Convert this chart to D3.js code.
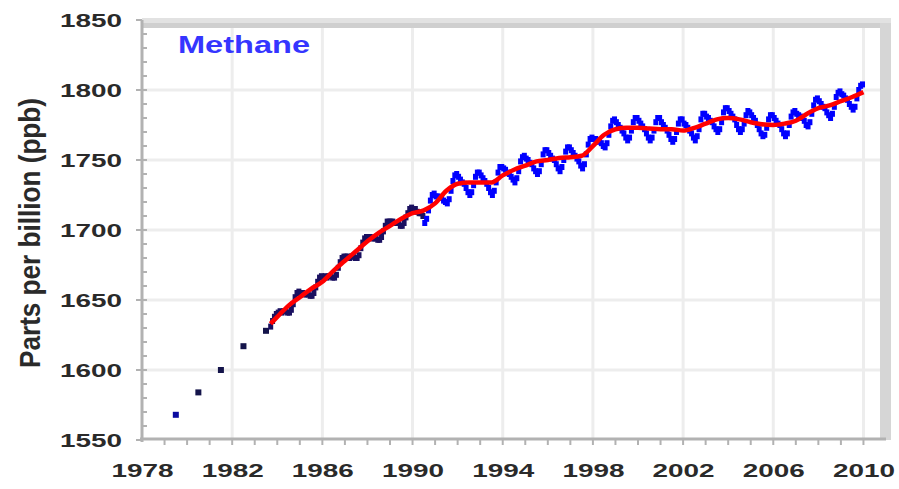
<!DOCTYPE html>
<html>
<head>
<meta charset="utf-8">
<script src="https://cdn.jsdelivr.net/npm/d3@7"></script>
<style>
  body { margin: 0; background: #fff; }
  svg { display: block; font-family: 'Liberation Sans', Arial, sans-serif; }
</style>
</head>
<body>
<div id="chart"></div>
<script>
// annual means before the monthly record
const annualYears = [1979.5, 1980.5, 1981.5, 1982.5, 1983.5]
const annualPpb = [1568, 1584, 1600, 1617, 1628]

// early monthly points (dark), from Sep 1983
const navyStart = 1983 + 8 / 12
const navyPpb = [
  1631, 1635, 1638, 1640,
  1641, 1642, 1641, 1642, 1642, 1641, 1641, 1643, 1647, 1652, 1655, 1656,
  1655, 1655, 1654, 1654, 1654, 1653, 1653, 1655, 1659, 1663, 1666, 1667,
  1666, 1667, 1666, 1667, 1667, 1666, 1666, 1668, 1673, 1677, 1680, 1681,
  1681, 1681, 1680, 1681, 1681, 1680, 1680, 1682, 1687, 1691, 1694, 1695,
  1695, 1695, 1694, 1694, 1694, 1693, 1693, 1695, 1699, 1703, 1706, 1706,
  1706, 1706, 1705, 1705, 1705, 1703, 1703, 1705, 1709, 1712, 1715, 1716,
  1715, 1715, 1713, 1712, 1712, 1710
]

// monthly means (blue), from Jul 1990
const blueStart = 1990.5
const bluePpb = [
  1705, 1708, 1714, 1721, 1725, 1726,
  1724, 1724, 1723, 1723, 1721, 1720, 1719, 1722, 1728, 1735, 1739, 1740,
  1738, 1736, 1734, 1733, 1730, 1727, 1725, 1727, 1732, 1738, 1741, 1741,
  1739, 1737, 1735, 1733, 1730, 1727, 1725, 1728, 1734, 1741, 1745, 1745,
  1744, 1743, 1741, 1740, 1738, 1736, 1734, 1737, 1742, 1749, 1752, 1753,
  1751, 1750, 1748, 1747, 1744, 1742, 1740, 1742, 1747, 1754, 1757, 1757,
  1755, 1753, 1751, 1750, 1747, 1744, 1742, 1745, 1750, 1756, 1759, 1759,
  1757, 1755, 1753, 1751, 1749, 1746, 1744, 1747, 1754, 1761, 1765, 1766,
  1765, 1765, 1764, 1763, 1762, 1760, 1759, 1762, 1768, 1774, 1778, 1779,
  1777, 1775, 1773, 1771, 1769, 1766, 1764, 1766, 1771, 1777, 1780, 1780,
  1778, 1776, 1774, 1772, 1769, 1766, 1764, 1766, 1771, 1777, 1780, 1780,
  1777, 1775, 1773, 1771, 1768, 1765, 1763, 1765, 1770, 1776, 1779, 1779,
  1776, 1775, 1773, 1771, 1769, 1766, 1764, 1767, 1772, 1779, 1783, 1783,
  1781, 1780, 1778, 1777, 1774, 1772, 1770, 1772, 1777, 1784, 1787, 1787,
  1785, 1783, 1781, 1779, 1775, 1772, 1770, 1772, 1776, 1782, 1785, 1784,
  1782, 1780, 1778, 1775, 1772, 1769, 1767, 1768, 1773, 1779, 1782, 1782,
  1780, 1778, 1776, 1775, 1772, 1769, 1767, 1769, 1775, 1781, 1784, 1785,
  1783, 1782, 1781, 1780, 1778, 1775, 1774, 1777, 1783, 1789, 1793, 1794,
  1792, 1790, 1788, 1787, 1784, 1782, 1780, 1783, 1788, 1795, 1798, 1799,
  1797, 1796, 1794, 1793, 1790, 1788, 1786, 1788, 1794, 1800, 1803, 1804
]

// deseasonalized trend (red line)
const trendYears = [1983.7, 1984, 1984.5, 1985, 1985.5, 1986, 1986.5, 1987, 1987.5, 1988, 1988.5,
  1989, 1989.5, 1990, 1990.5, 1991, 1991.5, 1992, 1992.5, 1993, 1993.5, 1994, 1994.5,
  1995, 1995.5, 1996, 1996.5, 1997, 1997.5, 1998, 1998.5, 1999, 1999.5, 2000, 2000.5,
  2001, 2001.5, 2002, 2002.5, 2003, 2003.5, 2004, 2004.5, 2005, 2005.5, 2006, 2006.5,
  2007, 2007.5, 2008, 2008.5, 2009, 2009.5, 2010]
const trendPpb = [1633, 1638, 1646, 1652, 1658, 1663, 1671, 1678, 1685, 1692, 1698,
  1703, 1708, 1712, 1714, 1719, 1728, 1733, 1734, 1734, 1734, 1739, 1743,
  1746, 1749, 1750, 1751.5, 1752, 1753, 1760, 1768, 1772, 1773, 1773, 1772.5,
  1772, 1772, 1771, 1773, 1776, 1779, 1780, 1779, 1777, 1775.5, 1775, 1776,
  1778, 1783, 1787, 1789, 1792, 1795, 1798.5]

const xTicks = [1978, 1982, 1986, 1990, 1994, 1998, 2002, 2006, 2010]
const yTicks = [1550, 1600, 1650, 1700, 1750, 1800, 1850]

const width = 899, height = 489
const svg = d3.select('#chart').append('svg')
  .attr('width', width)
  .attr('height', height)

const x = d3.scaleLinear().domain([1978, 2011]).range([142, 886])
const y = d3.scaleLinear().domain([1550, 1850]).range([440, 20])

// grid
const gridG = svg.append('g')
gridG.selectAll('.hgrid').data(yTicks.slice(1, -1))
  .enter().append('line')
  .attr('x1', x(1978)).attr('x2', x(2011))
  .attr('y1', d => y(d)).attr('y2', d => y(d))
  .attr('stroke', '#ededed').attr('stroke-width', 3)
gridG.selectAll('.vgrid').data(xTicks.slice(1))
  .enter().append('line')
  .attr('x1', d => x(d)).attr('x2', d => x(d))
  .attr('y1', y(1850)).attr('y2', y(1550))
  .attr('stroke', '#ededed').attr('stroke-width', 3)

// frame (top and right edges)
svg.append('rect').attr('x', x(1978)).attr('y', 18).attr('width', x(2011) - x(1978) + 5).attr('height', 5)
  .attr('fill', '#e2e2e2')
svg.append('rect').attr('x', x(1978)).attr('y', 23).attr('width', x(2011) - x(1978) + 5).attr('height', 5)
  .attr('fill', '#cfcfcf')
svg.append('rect').attr('x', x(2011) - 6).attr('y', 23).attr('width', 11).attr('height', y(1550) - 23)
  .attr('fill', '#d6d6d6')

// axes lines and minor ticks
const axG = svg.append('g').attr('stroke', '#b2b2b2')
axG.append('line').attr('x1', x(1978)).attr('x2', x(1978)).attr('y1', 20).attr('y2', y(1550) + 2)
  .attr('stroke-width', 3)
axG.append('line').attr('x1', x(1978) - 2).attr('x2', x(2011)).attr('y1', y(1550) - 1).attr('y2', y(1550) - 1)
  .attr('stroke-width', 3)
axG.selectAll('.ymin').data(d3.range(1560, 1850, 10))
  .enter().append('line')
  .attr('x1', x(1978)).attr('x2', x(1978) + 5)
  .attr('y1', d => y(d)).attr('y2', d => y(d))
  .attr('stroke-width', 2)
axG.selectAll('.ymaj').data(yTicks)
  .enter().append('line')
  .attr('x1', x(1978) - 6).attr('x2', x(1978))
  .attr('y1', d => y(d)).attr('y2', d => y(d))
  .attr('stroke-width', 2)
axG.selectAll('.xmin').data(d3.range(1979, 2011, 1))
  .enter().append('line')
  .attr('x1', d => x(d)).attr('x2', d => x(d))
  .attr('y1', y(1550) - 1).attr('y2', y(1550) + 5)
  .attr('stroke-width', 2)

// tick labels
const yAxisG = svg.append('g')
  .attr('transform', `translate(${x(1978)}, 0)`)
  .call(d3.axisLeft(y).tickValues(yTicks).tickSize(0).tickPadding(20).tickFormat(d3.format('d')))
const xAxisG = svg.append('g')
  .attr('transform', `translate(0, ${y(1550)})`)
  .call(d3.axisBottom(x).tickValues(xTicks).tickSize(0).tickPadding(24).tickFormat(d3.format('d')))
for(const g of [yAxisG, xAxisG]) {
  g.select('.domain').remove()
  g.selectAll('text')
    .attr('fill', '#2a2a2a')
    .style('font-family', "'Liberation Sans', Arial, sans-serif")
    .style('font-size', '19px')
    .style('font-weight', 'bold')
    .attr('textLength', 62)
    .attr('lengthAdjust', 'spacingAndGlyphs')
}

// points
const pts = svg.append('g')
pts.selectAll('.annual').data(annualYears)
  .enter().append('rect')
  .attr('x', d => x(d) - 3)
  .attr('y', (d, i) => y(annualPpb[i]) - 3)
  .attr('width', 6).attr('height', 6)
  .attr('fill', (d, i) => i === 0 ? '#0a0aa0' : '#14144a')
pts.selectAll('.navy').data(navyPpb)
  .enter().append('rect')
  .attr('x', (d, i) => x(navyStart + (i + 0.5) / 12) - 2.5)
  .attr('y', d => y(d) - 3)
  .attr('width', 5).attr('height', 6)
  .attr('fill', '#1a1060')
pts.selectAll('.blue').data(bluePpb)
  .enter().append('rect')
  .attr('x', (d, i) => x(blueStart + (i + 0.5) / 12) - 2.5)
  .attr('y', d => y(d) - 3)
  .attr('width', 5).attr('height', 6)
  .attr('fill', '#0000ff')

// trend line
const line = d3.line()
  .x(d => x(d[0]))
  .y(d => y(d[1]))
  .curve(d3.curveMonotoneX)
svg.append('path')
  .datum(trendYears.map((d, i) => [d, trendPpb[i]]))
  .attr('fill', 'none')
  .attr('stroke', '#ff0000')
  .attr('stroke-width', 4.5)
  .attr('stroke-linejoin', 'round')
  .attr('d', line)

// title
svg.append('text')
  .text('Methane')
  .attr('x', 178).attr('y', 53)
  .attr('fill', '#3535ff')
  .style('font-size', '24px')
  .style('font-weight', 'bold')
  .attr('textLength', 132)
  .attr('lengthAdjust', 'spacingAndGlyphs')

// y label
svg.append('text')
  .text('Parts per billion (ppb)')
  .attr('transform', 'translate(40, 233) rotate(-90) scale(1, 1.45)')
  .attr('text-anchor', 'middle')
  .attr('fill', '#2a2a2a')
  .style('font-size', '20px')
  .style('font-weight', 'bold')
  .attr('textLength', 270)
  .attr('lengthAdjust', 'spacingAndGlyphs')
</script>
</body>
</html>
